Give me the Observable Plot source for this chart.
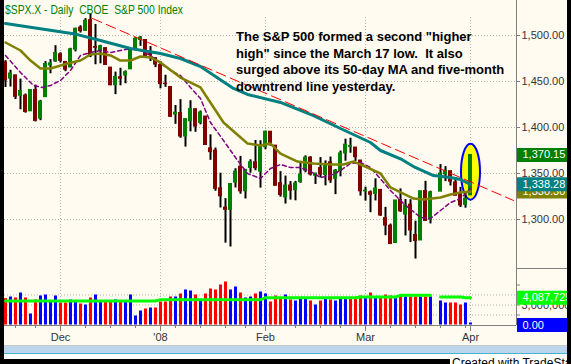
<!DOCTYPE html>
<html>
<head>
<meta charset="utf-8">
<script src="https://cdn.jsdelivr.net/npm/d3@7"></script>
<script src="https://cdn.jsdelivr.net/npm/@observablehq/plot@0.6"></script>
<style>
html,body{margin:0;padding:0;background:#000;}
#wrap{position:relative;width:571px;height:364px;overflow:hidden;background:#000;font-family:"Liberation Sans",Arial,sans-serif;}
#cream{position:absolute;left:4px;top:0;width:563px;height:345px;background:#fffbf0;}
#wrap svg{position:absolute;left:0;top:0;}
.abs{position:absolute;}
#title{left:5px;top:3px;color:#008000;font-size:12.5px;line-height:14px;white-space:pre;transform-origin:0 0;display:inline-block;}
#note{left:236px;top:29px;color:#000;font-weight:bold;font-size:13px;line-height:16.5px;white-space:pre;}
</style>
</head>
<body>
<div id="wrap">
<div id="cream"></div>
<div id="plots"></div>
<div class="abs" id="title">$SPX.X - Daily  CBOE  S&amp;P 500 Index</div>
<div class="abs" id="note">The S&amp;P 500 formed a second "higher
high" since the March 17 low.  It also
surged above its 50-day MA and five-month
downtrend line yesterday.</div>
<div class="abs" style="left:516px;top:268px;width:51px;height:1px;background:#808080"></div>
<div class="abs" style="left:4px;top:345px;width:563px;height:1px;background:#c8c8c8"></div>
<div class="abs" style="left:4px;top:346px;width:563px;height:7px;background:#bcd4ec"></div>
<div class="abs" style="left:4px;top:353px;width:563px;height:1px;background:#48b0d0"></div>
<div class="abs" style="left:4px;top:354px;width:563px;height:5px;background:#fff"></div>
<div class="abs" style="left:450px;top:354px;width:117px;height:12px;background:#fff;font-size:12px;line-height:14px;color:#000;padding-left:2px;padding-top:2px;white-space:pre">Created with TradeStation</div>
<div class="abs" style="left:0;top:0;width:4px;height:364px;background:#000"></div>
<div class="abs" style="left:567px;top:0;width:4px;height:364px;background:#000"></div>
</div>
<script>
// ---------- data ----------
const dates = [
 "2007-11-15","2007-11-16","2007-11-19","2007-11-20","2007-11-21","2007-11-23","2007-11-26","2007-11-27","2007-11-28","2007-11-29","2007-11-30",
 "2007-12-03","2007-12-04","2007-12-05","2007-12-06","2007-12-07","2007-12-10","2007-12-11","2007-12-12","2007-12-13","2007-12-14","2007-12-17","2007-12-18","2007-12-19","2007-12-20","2007-12-21","2007-12-24","2007-12-26","2007-12-27","2007-12-28","2007-12-31",
 "2008-01-02","2008-01-03","2008-01-04","2008-01-07","2008-01-08","2008-01-09","2008-01-10","2008-01-11","2008-01-14","2008-01-15","2008-01-16","2008-01-17","2008-01-18","2008-01-22","2008-01-23","2008-01-24","2008-01-25","2008-01-28","2008-01-29","2008-01-30","2008-01-31",
 "2008-02-01","2008-02-04","2008-02-05","2008-02-06","2008-02-07","2008-02-08","2008-02-11","2008-02-12","2008-02-13","2008-02-14","2008-02-15","2008-02-19","2008-02-20","2008-02-21","2008-02-22","2008-02-25","2008-02-26","2008-02-27","2008-02-28","2008-02-29",
 "2008-03-03","2008-03-04","2008-03-05","2008-03-06","2008-03-07","2008-03-10","2008-03-11","2008-03-12","2008-03-13","2008-03-14","2008-03-17","2008-03-18","2008-03-19","2008-03-20","2008-03-21","2008-03-24","2008-03-25","2008-03-26","2008-03-27","2008-03-28","2008-03-31",
 "2008-04-01"];
const open = [
 1470.6,1453.1,1456.7,1434.5,1434.7,1417.6,1440.7,1409.6,1433.0,1467.4,1471.8,
 1479.6,1471.3,1465.2,1484.6,1508.6,1505.1,1516.7,1487.6,1483.3,1486.2,1465.1,1445.9,1454.7,1456.4,1463.2,1484.6,1495.1,1495.1,1479.8,1475.3,
 1468.0,1447.6,1444.0,1414.1,1415.7,1390.3,1406.8,1419.9,1405.0,1411.9,1377.4,1374.8,1333.9,1312.9,1310.4,1340.1,1357.3,1330.7,1355.9,1362.2,1352.0,
 1378.6,1395.4,1380.3,1339.5,1324.0,1336.9,1331.9,1340.6,1353.1,1367.3,1347.5,1355.9,1348.4,1362.2,1344.2,1352.8,1371.8,1379.0,1378.2,1364.1,
 1330.5,1329.6,1327.7,1332.2,1301.5,1293.2,1274.4,1321.1,1305.3,1316.1,1283.2,1277.2,1331.0,1299.7,null,1330.3,1349.1,1352.5,1340.3,1327.0,1315.9,
 1326.2];
const high = [
 1472.7,1462.2,1456.7,1452.6,1436.4,1440.9,1446.1,1429.5,1471.6,1473.8,1488.9,
 1481.2,1471.3,1486.1,1508.0,1510.6,1518.3,1523.6,1512.0,1489.4,1486.7,1465.1,1460.2,1464.4,1461.5,1485.4,1497.6,1498.9,1495.1,1488.0,1475.8,
 1471.8,1456.8,1444.0,1423.9,1430.3,1409.2,1429.1,1419.9,1417.9,1411.9,1392.0,1377.7,1350.3,1322.7,1339.1,1355.2,1368.6,1354.0,1364.9,1385.9,1385.6,
 1396.0,1395.4,1380.3,1352.0,1347.2,1341.2,1341.4,1362.1,1369.2,1368.2,1350.0,1367.3,1363.7,1367.9,1354.3,1374.4,1387.3,1388.3,1378.2,1364.1,
 1335.1,1331.0,1344.2,1332.2,1313.2,1295.0,1320.7,1333.3,1321.7,1321.5,1298.1,1330.7,1341.5,1330.7,null,1359.7,1357.5,1352.5,1345.6,1334.9,1328.5,
 1370.2];
const low = [
 1443.5,1444.0,1430.4,1419.3,1415.6,1417.6,1406.1,1407.4,1433.0,1458.4,1470.9,
 1470.1,1460.7,1465.2,1482.2,1502.7,1504.7,1476.0,1468.2,1469.2,1467.8,1445.4,1435.7,1445.3,1447.5,1463.2,1484.6,1488.2,1475.9,1471.7,1465.1,
 1442.1,1443.7,1411.2,1403.5,1388.3,1378.7,1395.3,1394.8,1402.9,1380.6,1364.3,1330.7,1312.5,1274.3,1270.1,1334.3,1327.5,1322.3,1350.3,1353.0,1334.1,
 1375.9,1379.7,1336.6,1324.3,1316.8,1321.1,1320.3,1339.4,1350.8,1347.3,1338.1,1345.1,1336.6,1339.3,1327.0,1346.4,1363.3,1372.0,1363.2,1325.4,
 1320.0,1307.4,1320.2,1303.4,1282.4,1272.7,1274.4,1307.9,1282.1,1274.9,1257.0,1277.2,1298.4,1295.2,null,1330.3,1341.2,1336.4,1325.7,1313.0,1312.3,
 1326.2];
const close = [
 1451.2,1458.7,1433.3,1439.7,1416.8,1440.7,1407.2,1428.2,1469.0,1469.7,1481.1,
 1472.4,1462.8,1485.0,1507.3,1504.7,1516.0,1477.7,1486.6,1488.4,1468.0,1445.9,1455.0,1453.0,1460.1,1484.5,1496.5,1497.7,1476.3,1478.5,1468.4,
 1447.2,1447.2,1411.6,1416.2,1390.2,1409.1,1420.3,1401.0,1416.3,1381.0,1373.2,1333.3,1325.2,1310.5,1338.6,1352.1,1330.6,1354.0,1362.3,1355.8,1378.6,
 1395.4,1380.8,1336.6,1326.5,1336.9,1331.3,1339.1,1348.9,1367.2,1348.9,1350.0,1348.8,1360.0,1342.5,1353.1,1371.8,1381.3,1380.0,1367.7,1330.6,
 1331.3,1326.8,1333.7,1304.3,1293.4,1273.4,1320.7,1308.8,1315.5,1288.1,1276.6,1330.7,1298.4,1329.5,null,1349.9,1353.0,1341.1,1325.8,1315.2,1322.7,
 1370.15];
const priorClose = 1470.6;
// volume, millions
const volume = [
 3.95,4.2,4.05,4.8,4.05,1.65,3.75,4.35,4.5,3.6,4.35,
 3.3,3.3,3.75,3.6,3.15,3.0,4.05,4.5,3.6,3.45,3.6,3.75,3.45,3.6,4.5,1.35,2.1,2.4,2.55,2.55,
 3.45,3.45,4.2,4.2,4.65,5.25,5.1,4.5,3.75,4.65,5.4,5.25,6.0,6.45,5.25,5.7,4.8,4.05,4.2,4.65,4.95,
 4.65,3.45,4.35,4.05,4.5,3.75,3.6,4.05,3.9,3.6,3.0,3.6,3.9,3.75,3.6,3.9,4.05,3.9,3.9,4.35,
 4.05,4.8,4.2,4.2,4.5,4.35,4.05,4.35,4.2,4.2,4.2,4.2,4.2,4.2,null,3.6,3.3,3.3,3.3,3.0,3.3,
 0.3];

const ma10Slots = [0,3,5.6,7.4,9,11,13,15,17,19,21,23,25,27,29,31,33,35,37,39,41,43.6,46,48.4,51,53,55,57,59,61,63,65,67,69,71,73,77,79.6,83,85,87,89,91,93];
const ma10 = [1478.3,1459.8,1445.7,1443.5,1445.7,1451.1,1462,1478.3,1481.5,1483.7,1481.5,1483.7,1485.9,1483.7,1478.3,1469.6,1462,1456.5,1443.5,1431.5,1405.4,1385.9,1367.4,1350,1344.6,1355.4,1359.8,1356.5,1356.5,1352.2,1345.7,1347.8,1353.3,1360.9,1362,1356.5,1331.5,1317.4,1302.2,1301.1,1309.8,1318.5,1322.8,1333.7];
const ma20Slots = [0,3,5,7,9,12.4,15,17,19,21,23,25,27,29,31,35,39,43.6,48.4,51,53,55,58.4,61.6,65,67.6,69.6,72.4,75,77,81.6,83.6,87,89,91,93];
const ma20 = [1492.4,1483.7,1472.8,1464.1,1464.1,1469.6,1472.8,1479.3,1480.4,1478.3,1472.8,1472.8,1477.2,1476.1,1470.7,1454.3,1443.5,1405.4,1382.6,1380.4,1382.6,1371.7,1363,1360.9,1359.8,1359.8,1363,1356.5,1350,1334.8,1322.8,1321.7,1323.9,1327.2,1329.3,1330.3];
const ma50Slots = [0,13.6,19,25,31,35,39,45.6,48.4,55,61.6,67,73,75,79,81.6,85.6,89,91,93];
const ma50 = [1513,1502,1494.6,1485.9,1480.4,1475,1466.3,1442.4,1435.9,1427.2,1413,1398.9,1383.7,1375,1366,1357.6,1347.8,1345.7,1343.5,1338.28];
const volMaSlots = [0,30,31,51,52,70,71,78,79,85,86,87,91,92,93];
const volMa = [3.6,3.6,3.8,3.8,4.1,4.1,4.2,4.2,4.45,4.45,null,4.2,4.2,4.09,4.087725];

const trendSlots = [17.4,101.6];
const trendValues = [1518.5,1320.7];
const highlightSlot = 93, highlightPrice = 1352;

const priceTicks = [1300,1350,1400,1450,1500];
const volGrid = [1.5,3,4.5];
const volTicks = [1.5,3,4.5,6];
const monthSlots = [11,31,52,72,93];
const monthLabels = ["Dec","'08","Feb","Mar","Apr"];
const weekSlots = [2,6,16,21,26,34,39,44,48,58,63,67,77,82,87,92];

const lastClose = 1370.15, lastMa50 = 1338.28, lastMa20 = 1330.30;
const lastVolMa = 4.087725, lastVolume = 0;

// ---------- build ----------
let prev = priorClose;
const bars = [];
dates.forEach((d,i)=>{
  if (open[i] == null) return;
  bars.push({slot:i, date:d, o:open[i], h:high[i], l:low[i], c:close[i], v:volume[i], up: close[i] > prev});
  prev = close[i];
});
const pts = (s, v) => s.map((x,i)=>({slot:x, v:v[i]}));
const months = monthSlots.map((s,i)=>({slot:s, label:monthLabels[i]}));
const fmt2 = d3.format(",.2f");
const fmtInt = d3.format(",d");

const X = {type:"linear", domain:[-0.2,102.2], range:[4,516], axis:null};
const FONT = '"Liberation Sans", Arial, sans-serif';

const ellipse = {draw(ctx){
  const rx=9.5, ry=28, k=0.5523, kx=rx*k, ky=ry*k;
  ctx.moveTo(rx,0);
  ctx.bezierCurveTo(rx,ky,kx,ry,0,ry);
  ctx.bezierCurveTo(-kx,ry,-rx,ky,-rx,0);
  ctx.bezierCurveTo(-rx,-ky,-kx,-ry,0,-ry);
  ctx.bezierCurveTo(kx,-ry,rx,-ky,rx,0);
  ctx.closePath();
}};

const priceBox = (v, color) => [
  Plot.ruleY([v], {x1:102.4, x2:112.4, stroke:color, strokeWidth:14}),
  Plot.text([v], {x:103.4, y:d=>d, text:d=>fmt2(d), textAnchor:"start", fill:"#fff", fontSize:11})
];

const price = Plot.plot({
  width:571, height:364, marginLeft:4, marginRight:55, marginTop:0, marginBottom:39,
  style:{background:"transparent", fontFamily:FONT, overflow:"visible"},
  x:X,
  y:{type:"linear", domain:[1300,1500], range:[219,35], axis:null},
  marks:[
    Plot.ruleY(priceTicks, {stroke:"#b4b4b4", strokeDasharray:"1,2"}),
    Plot.ruleX(monthSlots, {stroke:"#b4b4b4", strokeDasharray:"1,2", insetTop:17}),
    Plot.dot([{slot:highlightSlot, p:highlightPrice}], {x:"slot", y:"p", symbol:ellipse, r:10, fill:"#ffff00", stroke:"#0000ff", strokeWidth:2}),
    Plot.ruleX(bars, {x:"slot", y1:"l", y2:"h", stroke:"#000", strokeWidth:2, clip:true}),
    Plot.rect(bars.filter(b=>b.c>=b.o), {x1:b=>b.slot-0.4, x2:b=>b.slot+0.4, y1:"o", y2:"c", fill:"#008000", insetTop:-0.5, insetBottom:-0.5, clip:true}),
    Plot.rect(bars.filter(b=>b.c<b.o), {x1:b=>b.slot-0.4, x2:b=>b.slot+0.4, y1:"o", y2:"c", fill:"#800000", insetTop:-0.5, insetBottom:-0.5, clip:true}),
    Plot.line(pts(ma10Slots, ma10), {x:"slot", y:"v", stroke:"#800080", strokeWidth:1.5, strokeDasharray:"4,3", clip:true}),
    Plot.line(pts(ma20Slots, ma20), {x:"slot", y:"v", stroke:"#808000", strokeWidth:2.5, clip:true}),
    Plot.line(pts(ma50Slots, ma50), {x:"slot", y:"v", stroke:"#008080", strokeWidth:3, clip:true}),
    Plot.line(pts(trendSlots, trendValues), {x:"slot", y:"v", stroke:"#ff0000", strokeWidth:1, strokeDasharray:"10,5", clip:true}),
    Plot.ruleX([102.2], {stroke:"#808080"}),
    Plot.ruleY(priceTicks, {x1:102.2, x2:103, stroke:"#808080"}),
    Plot.text(priceTicks, {x:103.2, y:d=>d, text:d=>fmt2(d), textAnchor:"start", fill:"#333", fontSize:11}),
    ...priceBox(lastClose, "#008000"),
    ...priceBox(lastMa20, "#808000"),
    ...priceBox(lastMa50, "#008080")
  ]
});

const volumePlot = Plot.plot({
  width:571, height:364, marginLeft:4, marginRight:55, marginTop:0, marginBottom:33,
  style:{background:"transparent", fontFamily:FONT, overflow:"visible"},
  x:X,
  y:{type:"linear", domain:[0,6], range:[324.5,284.5], axis:null},
  marks:[
    Plot.ruleY(volGrid, {stroke:"#b4b4b4", strokeDasharray:"1,2"}),
    Plot.rect(bars.filter(b=>b.up), {x1:b=>b.slot-0.2, x2:b=>b.slot+0.4, y1:0, y2:"v", fill:"#0000ff"}),
    Plot.rect(bars.filter(b=>!b.up), {x1:b=>b.slot-0.2, x2:b=>b.slot+0.4, y1:0, y2:"v", fill:"#ff0000"}),
    Plot.line(pts(volMaSlots, volMa), {x:"slot", y:"v", stroke:"#00ff00", strokeWidth:3}),
    Plot.ruleY([0], {stroke:"#808080", dy:0.5}),
    Plot.ruleX(monthSlots, {stroke:"#808080", insetTop:325}),
    Plot.ruleX(weekSlots, {stroke:"#808080", insetTop:325, insetBottom:3}),
    Plot.text(months, {x:"slot", text:"label", frameAnchor:"bottom", lineAnchor:"middle", dy:6, fill:"#333", fontSize:11}),
    Plot.ruleY(volTicks, {x1:102.2, x2:103, stroke:"#808080"}),
    Plot.text([3], {x:103.2, y:d=>d, text:d=>fmtInt(d*1e6), textAnchor:"start", fill:"#333", fontSize:11}),
    Plot.ruleY([lastVolMa], {x1:102.4, x2:112.4, stroke:"#00ff00", strokeWidth:14}),
    Plot.text([lastVolMa], {x:103.4, y:d=>d, text:d=>fmtInt(Math.round(d*1e6)), textAnchor:"start", fill:"#fff", fontSize:11}),
    Plot.ruleY([lastVolume], {x1:102.4, x2:112.4, stroke:"#0000ff", strokeWidth:14}),
    Plot.text([lastVolume], {x:103.4, y:d=>d, text:d=>fmt2(d), textAnchor:"start", fill:"#fff", fontSize:11})
  ]
});

const holder = document.getElementById("plots");
holder.appendChild(price);
holder.appendChild(volumePlot);

const t = document.getElementById("title");
const w = t.getBoundingClientRect().width;
if (w > 0) t.style.transform = `scaleX(${178 / w})`;
</script>
</body>
</html>
